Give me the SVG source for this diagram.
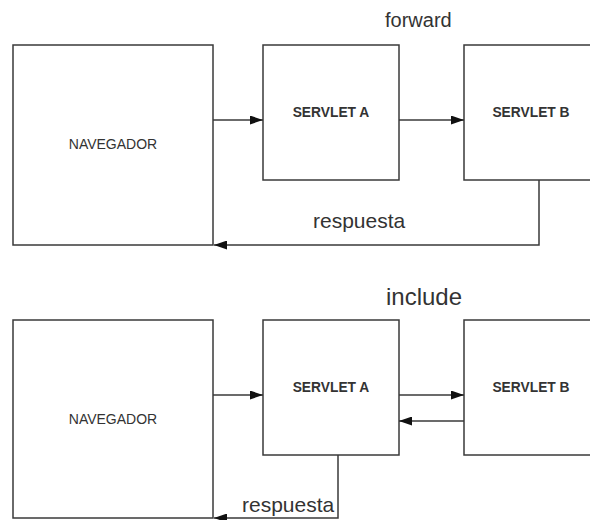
<svg xmlns="http://www.w3.org/2000/svg" width="590" height="520" viewBox="0 0 590 520">
  <style>
    .box { fill: #ffffff; stroke: #3a3a3a; stroke-width: 1.5; }
    .link { fill: none; stroke: #3a3a3a; stroke-width: 1.5; }
    .nav { font-family: "Liberation Sans", Arial, sans-serif; font-size: 14px; fill: #333333; text-anchor: middle; }
    .srv { font-family: "Liberation Sans", Arial, sans-serif; font-size: 13.8px; font-weight: bold; fill: #333333; text-anchor: middle; }
    .lbl { font-family: "Liberation Sans", Arial, sans-serif; fill: #333333; }
  </style>
  <defs>
    <marker id="arrow" viewBox="0 0 13 9" refX="13" refY="4.5" markerWidth="13" markerHeight="9" markerUnits="userSpaceOnUse" orient="auto">
      <path d="M0,0 L13,4.5 L0,9 Z" fill="#111111"/>
    </marker>
  </defs>

  <rect width="590" height="520" fill="#ffffff"/>

  <!-- forward scenario -->
  <g id="fwd-navegador">
    <rect class="box" x="13" y="45" width="200" height="200"/>
    <text class="nav" x="113" y="149">NAVEGADOR</text>
  </g>
  <g id="fwd-servlet-a">
    <rect class="box" x="263" y="45" width="136" height="135"/>
    <text class="srv" x="331" y="117">SERVLET A</text>
  </g>
  <g id="fwd-servlet-b">
    <rect class="box" x="464" y="45" width="136" height="135"/>
    <text class="srv" x="531" y="117">SERVLET B</text>
  </g>

  <!-- include scenario -->
  <g id="inc-navegador">
    <rect class="box" x="13" y="320" width="200" height="198"/>
    <text class="nav" x="113" y="424">NAVEGADOR</text>
  </g>
  <g id="inc-servlet-a">
    <rect class="box" x="263" y="320" width="136" height="135"/>
    <text class="srv" x="331" y="392">SERVLET A</text>
  </g>
  <g id="inc-servlet-b">
    <rect class="box" x="464" y="320" width="136" height="135"/>
    <text class="srv" x="531" y="392">SERVLET B</text>
  </g>

  <g id="connectors">
    <!-- forward -->
    <line class="link" x1="213" y1="120" x2="263" y2="120" marker-end="url(#arrow)"/>
    <line class="link" x1="399" y1="120" x2="464" y2="120" marker-end="url(#arrow)"/>
    <polyline class="link" points="539,180 539,245 214,245" marker-end="url(#arrow)"/>
    <!-- include -->
    <line class="link" x1="213" y1="395" x2="263" y2="395" marker-end="url(#arrow)"/>
    <line class="link" x1="399" y1="395" x2="464" y2="395" marker-end="url(#arrow)"/>
    <line class="link" x1="464" y1="421" x2="399" y2="421" marker-end="url(#arrow)"/>
    <polyline class="link" points="338,455 338,518 214,518" marker-end="url(#arrow)"/>
  </g>

  <g id="labels">
    <text class="lbl" x="385" y="27" font-size="20">forward</text>
    <text class="lbl" x="313" y="228" font-size="21">respuesta</text>
    <text class="lbl" x="386" y="305" font-size="24">include</text>
    <text class="lbl" x="242" y="512" font-size="21">respuesta</text>
  </g>
</svg>
